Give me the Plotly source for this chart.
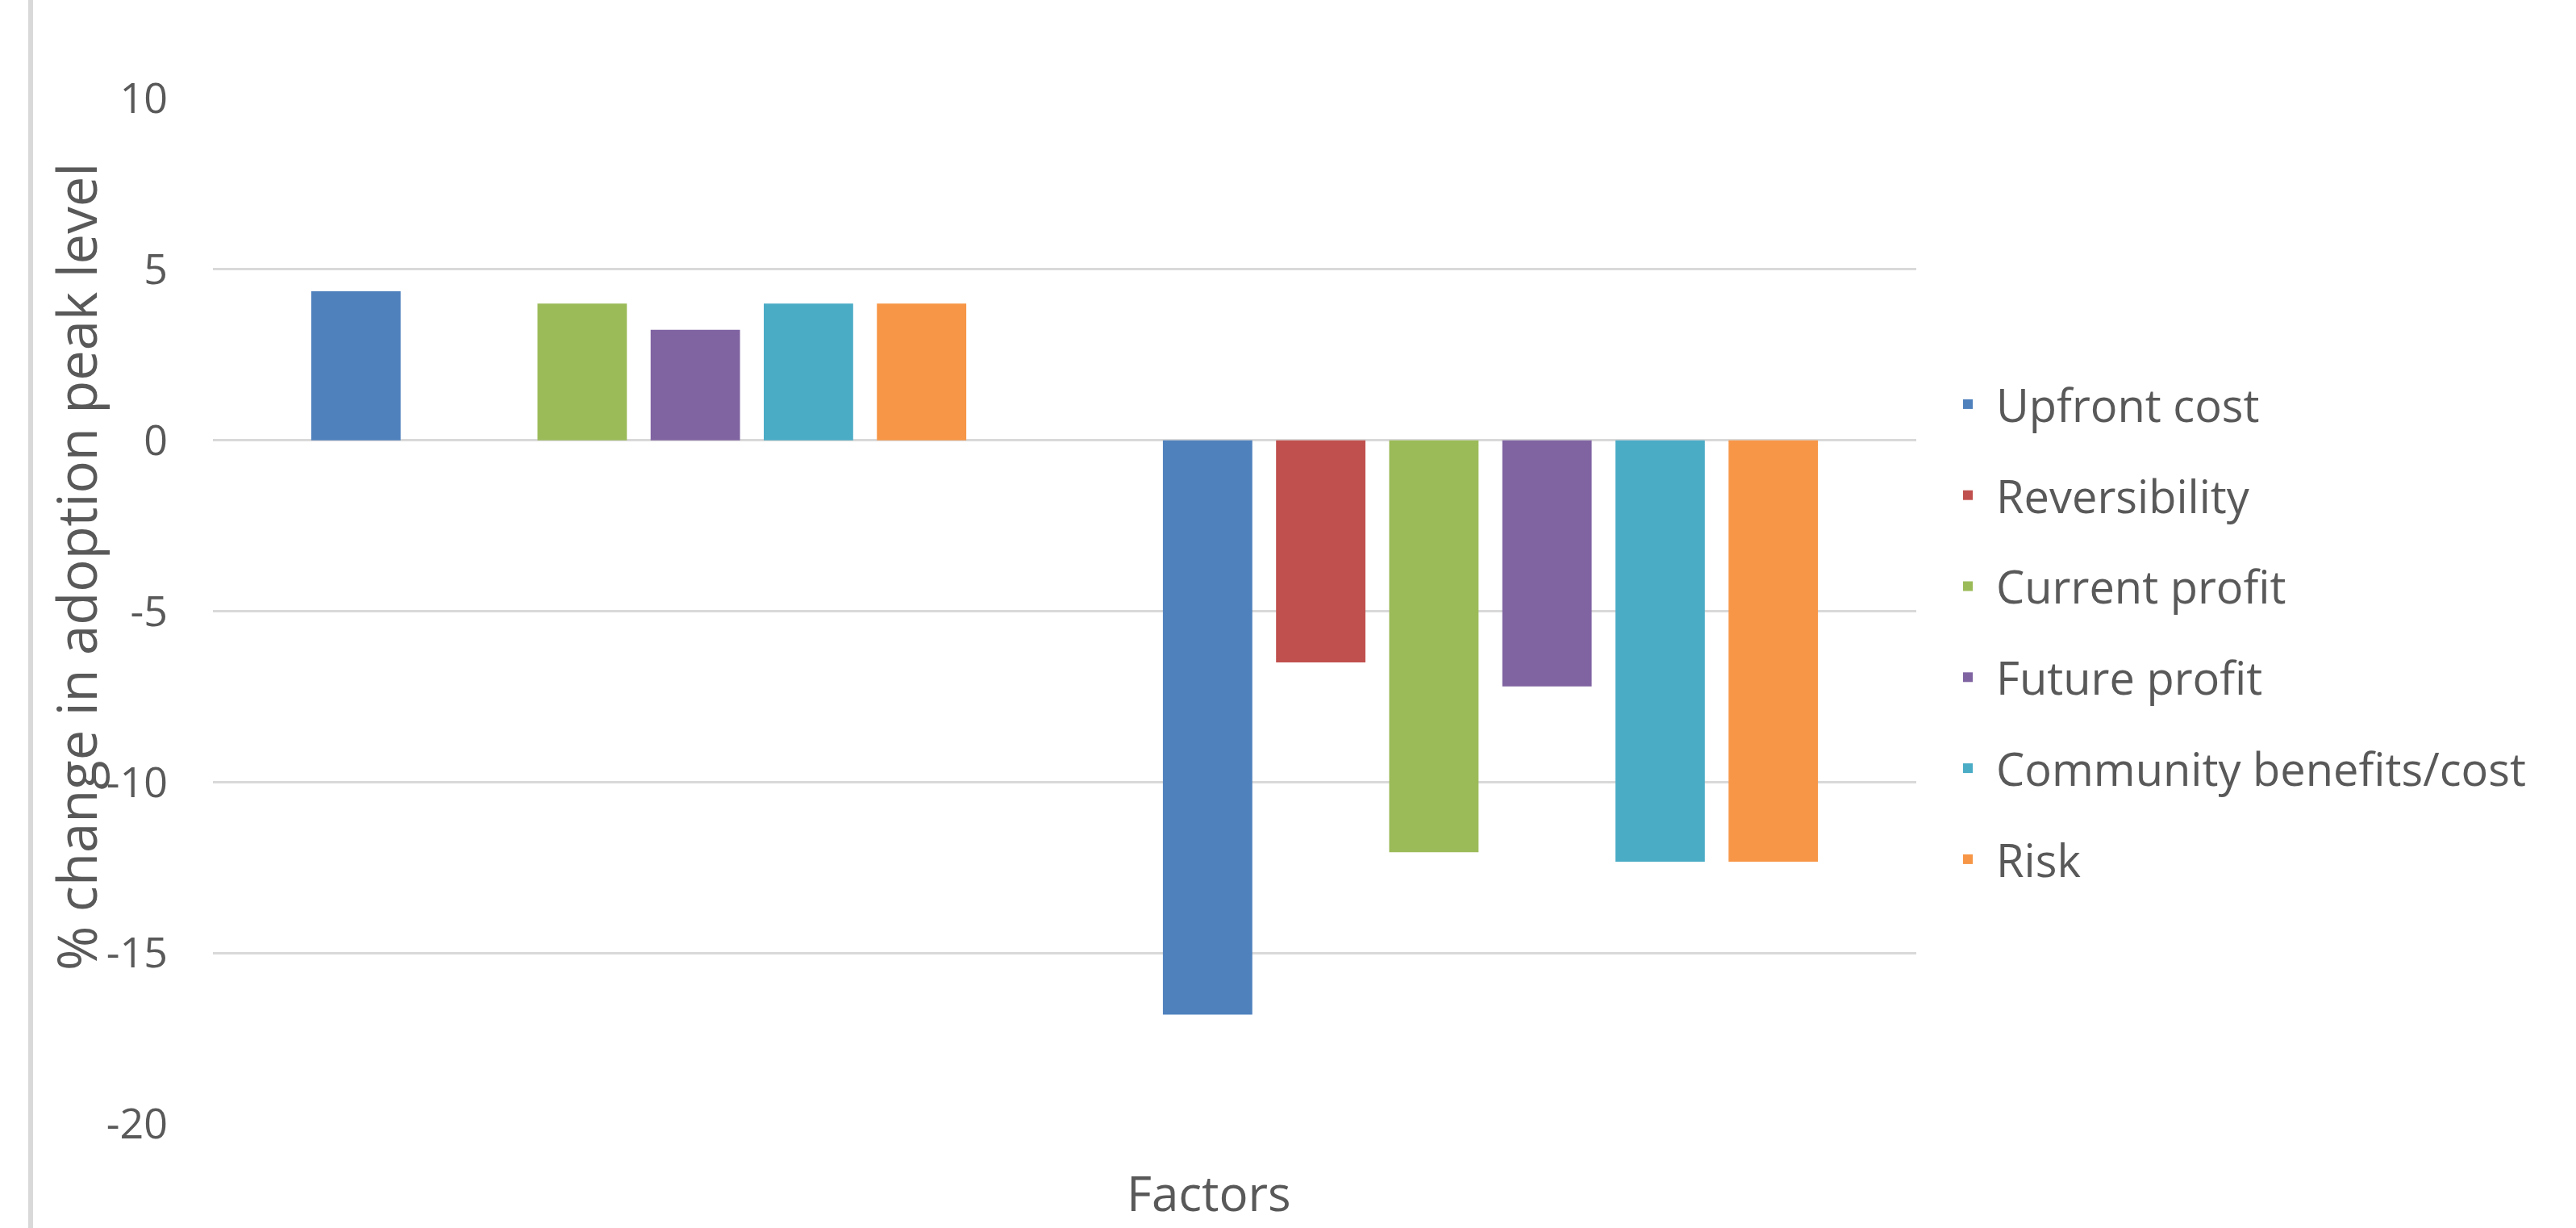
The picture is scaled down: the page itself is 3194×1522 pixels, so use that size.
import plotly.graph_objects as go

categories = ["Group 1", "Group 2"]
series_names = ["Upfront cost", "Reversibility", "Current profit", "Future profit",
                "Community benefits/cost", "Risk"]
upfront_cost = [4.36, -16.8]
reversibility = [None, -6.5]
current_profit = [4.0, -12.05]
future_profit = [3.23, -7.2]
community = [4.0, -12.33]
risk = [4.0, -12.33]
series_values = [upfront_cost, reversibility, current_profit, future_profit, community, risk]
colors = ["#4F81BD", "#C0504D", "#9BBB59", "#8064A2", "#4BACC6", "#F79646"]
y_ticks = [-20, -15, -10, -5, 0, 5, 10]
y_tick_labels = ["-20", "-15", "-10", "-5", "0", "5", "10"]

FONT = "Open Sans"
TXT = "#595959"

fig = go.Figure()
for name, vals, col in zip(series_names, series_values, colors):
    fig.add_trace(go.Bar(x=categories, y=vals, name=name, marker_color=col,
                         marker_line_width=0, legendgroup=name))

W, H = 3194, 1522
L, R, T, B = 264, 818, 122, 129
pw, ph = W - L - R, H - T - B

def px_x(x):
    return (x - L) / pw

def px_y(y):
    return (H - B - y) / ph

fig.update_layout(
    width=W, height=H,
    margin=dict(l=L, r=R, t=T, b=B, autoexpand=False),
    paper_bgcolor="white", plot_bgcolor="white",
    barmode="group", bargap=0.203, bargroupgap=0.21,
    font=dict(family=FONT, color=TXT, size=52),
    showlegend=True,
    legend=dict(x=px_x(2405), y=px_y(458), xanchor="left", yanchor="top",
                font=dict(size=56, color=TXT, family=FONT),
                tracegroupgap=37, bgcolor="rgba(0,0,0,0)", itemwidth=60),
    xaxis=dict(showticklabels=False, showgrid=False, zeroline=False, showline=False,
               ticks=""),
    yaxis=dict(range=[-20, 10], tickvals=y_ticks, ticktext=y_tick_labels,
               showgrid=True, gridcolor="#D9D9D9",
               gridwidth=3, zeroline=True, zerolinecolor="#D9D9D9", zerolinewidth=3,
               showline=False, ticks="", ticklabelstandoff=55,
               tickfont=dict(size=52, color=TXT, family=FONT)),
    annotations=[
        dict(text="% change in adoption peak level", textangle=-90, showarrow=False,
             xref="paper", yref="paper", x=px_x(94), y=px_y(703),
             xanchor="center", yanchor="middle",
             font=dict(size=67, color=TXT, family=FONT)),
        dict(text="Factors", showarrow=False, xref="paper", yref="paper",
             x=px_x(1499), y=px_y(1521), xanchor="center", yanchor="bottom",
             font=dict(size=60, color=TXT, family=FONT)),
    ],
    shapes=[dict(type="line", xref="paper", yref="paper", x0=px_x(38), x1=px_x(38),
                 y0=-1, y1=2, line=dict(color="#D9D9D9", width=6))],
)

fig.write_html("out.html")
